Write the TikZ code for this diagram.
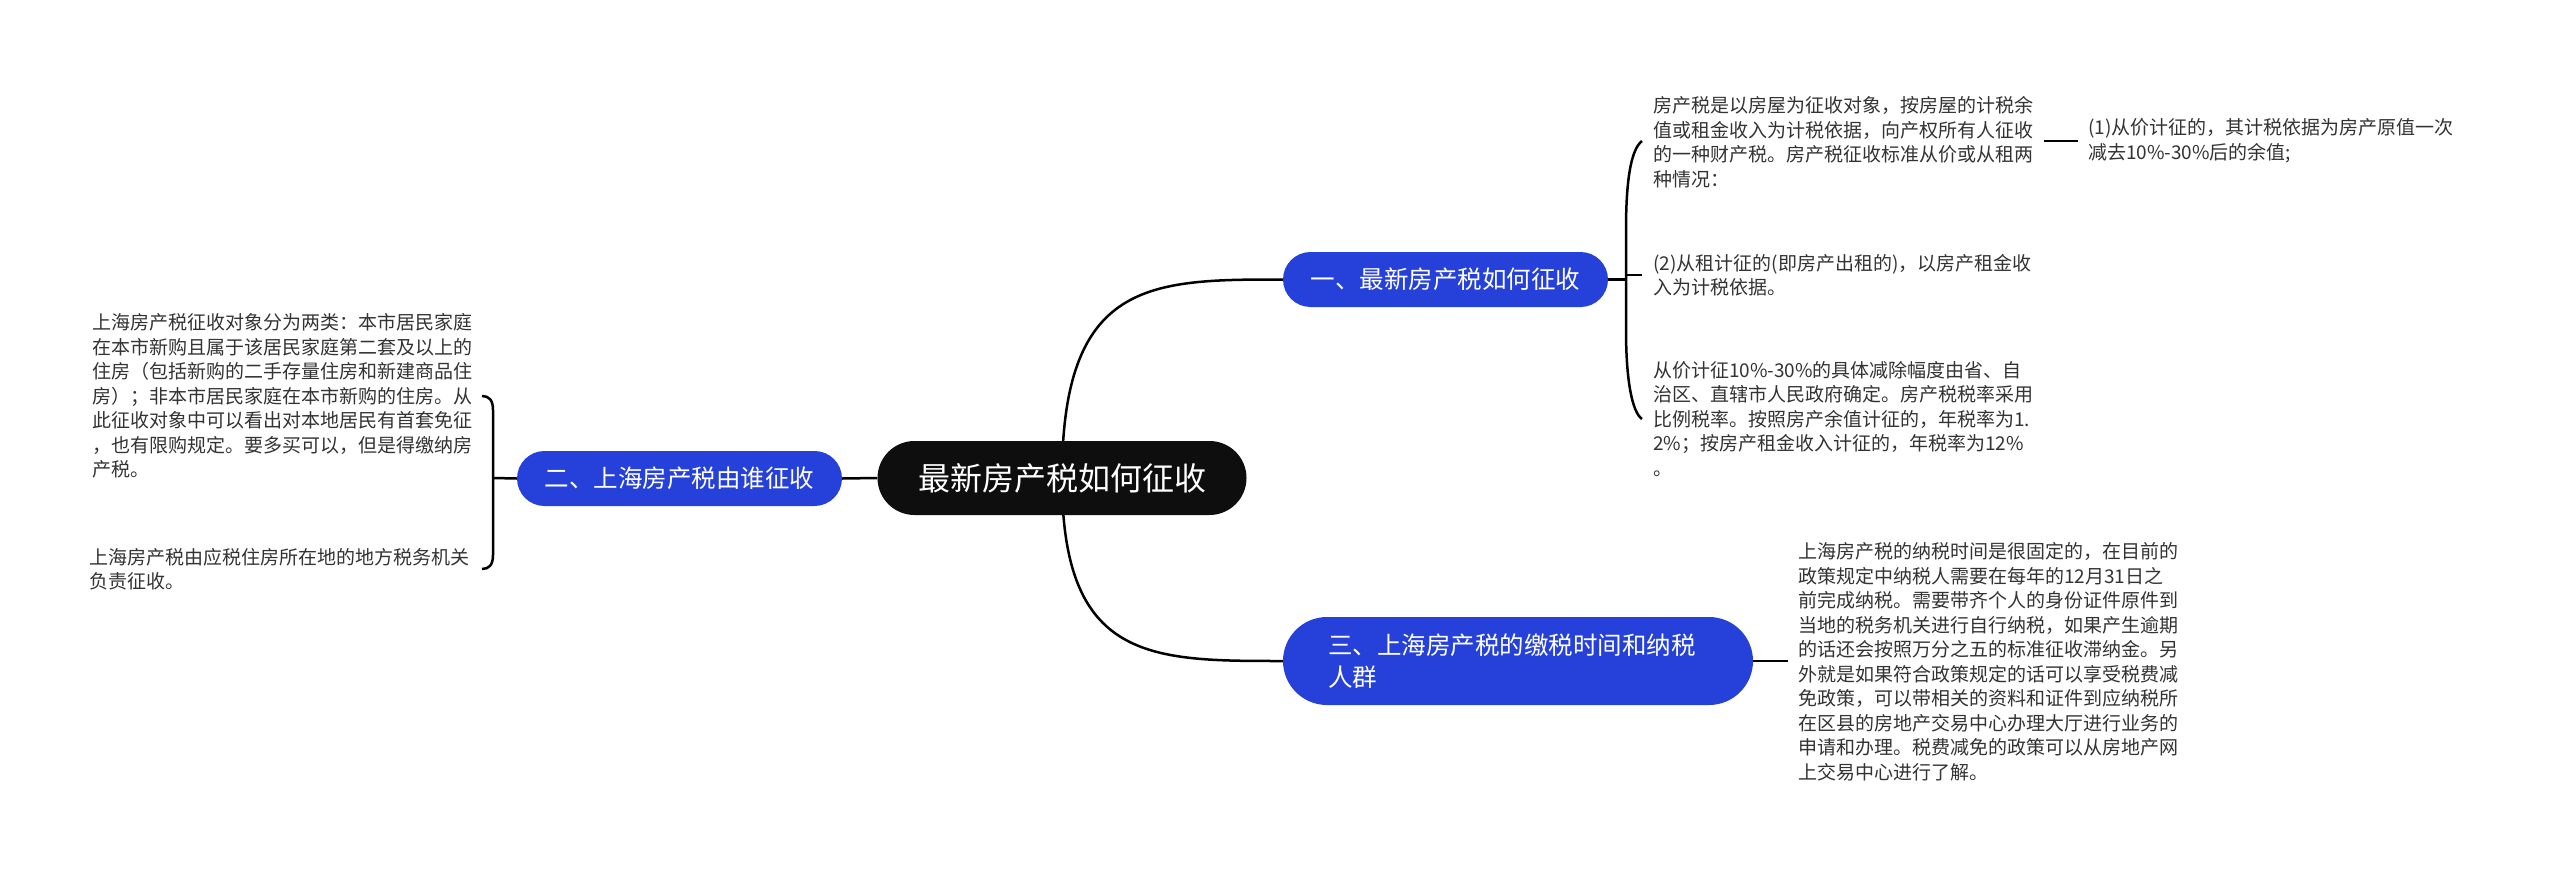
\documentclass[tikz,border=0pt]{standalone}
\usepackage{fontspec}
\setmainfont{Noto Sans CJK SC}
\usetikzlibrary{backgrounds}
\definecolor{nodeblue}{HTML}{2541D9}
\definecolor{rootblack}{HTML}{0E0E0E}
\definecolor{bodytext}{HTML}{333333}
\begin{document}
\begin{tikzpicture}[x=1pt,y=-1pt,
  conn/.style={line width=2.5pt, draw=black},
  rootnode/.style={fill=rootblack, text=white, rounded corners=37pt, minimum width=369pt, minimum height=74pt, inner sep=0pt, font=\fontsize{32}{40}\selectfont},
  bnode/.style={fill=nodeblue, text=white, rounded corners=27.5pt, minimum width=325pt, minimum height=55pt, inner sep=0pt, font=\fontsize{24.5}{32}\selectfont},
  txt/.style={text=bodytext, align=left, inner ysep=0pt, font=\fontsize{19}{24.5}\selectfont}
]
\useasboundingbox (0,0) rectangle (2560,875);

% main nodes
\node[rootnode] (root) at (1062,478) {最新房产税如何征收};
\node[bnode] (n1) at (1445.5,279.5) {一、最新房产税如何征收};
\node[bnode] (n2) at (679.5,478.5) {二、上海房产税由谁征收};
\node[bnode, text width=380pt, align=left, inner xsep=45pt, minimum height=88pt, rounded corners=44pt] (n3) at (1518,661) {三、上海房产税的缴税时间和纳税\\人群};

% right texts of branch 1
\node[txt, anchor=west, inner xsep=11pt] (t1) at (1642,142) {房产税是以房屋为征收对象，按房屋的计税余\\值或租金收入为计税依据，向产权所有人征收\\的一种财产税。房产税征收标准从价或从租两\\种情况：};
\node[txt, anchor=west, inner xsep=10pt] (p1) at (2078,141) {(1)从价计征的，其计税依据为房产原值一次\\减去10\%-30\%后的余值;};
\node[txt, anchor=west, inner xsep=11pt] (t2) at (1642,275) {(2)从租计征的(即房产出租的)，以房产租金收\\入为计税依据。};
\node[txt, anchor=west, inner xsep=11pt] (t3) at (1642,419) {从价计征10\%-30\%的具体减除幅度由省、自\\治区、直辖市人民政府确定。房产税税率采用\\比例税率。按照房产余值计征的，年税率为1.\\2\%；按房产租金收入计征的，年税率为12\%\\。};

% left texts of branch 2
\node[txt, anchor=east, inner xsep=9pt] (l1) at (482,396) {上海房产税征收对象分为两类：本市居民家庭\\在本市新购且属于该居民家庭第二套及以上的\\住房（包括新购的二手存量住房和新建商品住\\房）；非本市居民家庭在本市新购的住房。从\\此征收对象中可以看出对本地居民有首套免征\\，也有限购规定。要多买可以，但是得缴纳房\\产税。};
\node[txt, anchor=east, inner xsep=12pt] (l2) at (482,569) {上海房产税由应税住房所在地的地方税务机关\\负责征收。};

% text of branch 3
\node[txt, anchor=west, inner xsep=10pt] (r3) at (1788,662) {上海房产税的纳税时间是很固定的，在目前的\\政策规定中纳税人需要在每年的12月31日之\\前完成纳税。需要带齐个人的身份证件原件到\\当地的税务机关进行自行纳税，如果产生逾期\\的话还会按照万分之五的标准征收滞纳金。另\\外就是如果符合政策规定的话可以享受税费减\\免政策，可以带相关的资料和证件到应纳税所\\在区县的房地产交易中心办理大厅进行业务的\\申请和办理。税费减免的政策可以从房地产网\\上交易中心进行了解。};

\coordinate (rbx) at (1626,278);
\coordinate (lbx) at (493,478);

\begin{scope}[on background layer]
\fill[white] (0,0) rectangle (2560,875);
% root connectors
\draw[conn] (root.center) .. controls (1062,280) and (1150,279.5) .. (n1.west);
\draw[conn] (root.center) .. controls (1062,661) and (1150,661) .. (n3.west);
\draw[conn] (n2.east) -- (root.west);
% branch 1
\draw[conn] (n1.east) -- (n1.east -| rbx);
\draw[conn] (t1.west |- p1.west) .. controls (1630,150) and (1626,185) .. (1626,230) -- (1626,330) .. controls (1626,380) and (1632,412) .. (t3.west);
\draw[conn] (t2.west -| rbx) -- (t2.west);
\draw[conn] (p1.west -| t1.east) -- (p1.west);
% branch 2
\draw[conn] (n2.west) -- (lbx);
\draw[conn] (l1.east) .. controls (489,396) and (493,400) .. (493,410) -- (493,555) .. controls (493,565) and (489,569) .. (l2.east);
% branch 3
\draw[conn] (n3.east) -- (n3.east -| r3.west);
\end{scope}
\end{tikzpicture}
\end{document}
